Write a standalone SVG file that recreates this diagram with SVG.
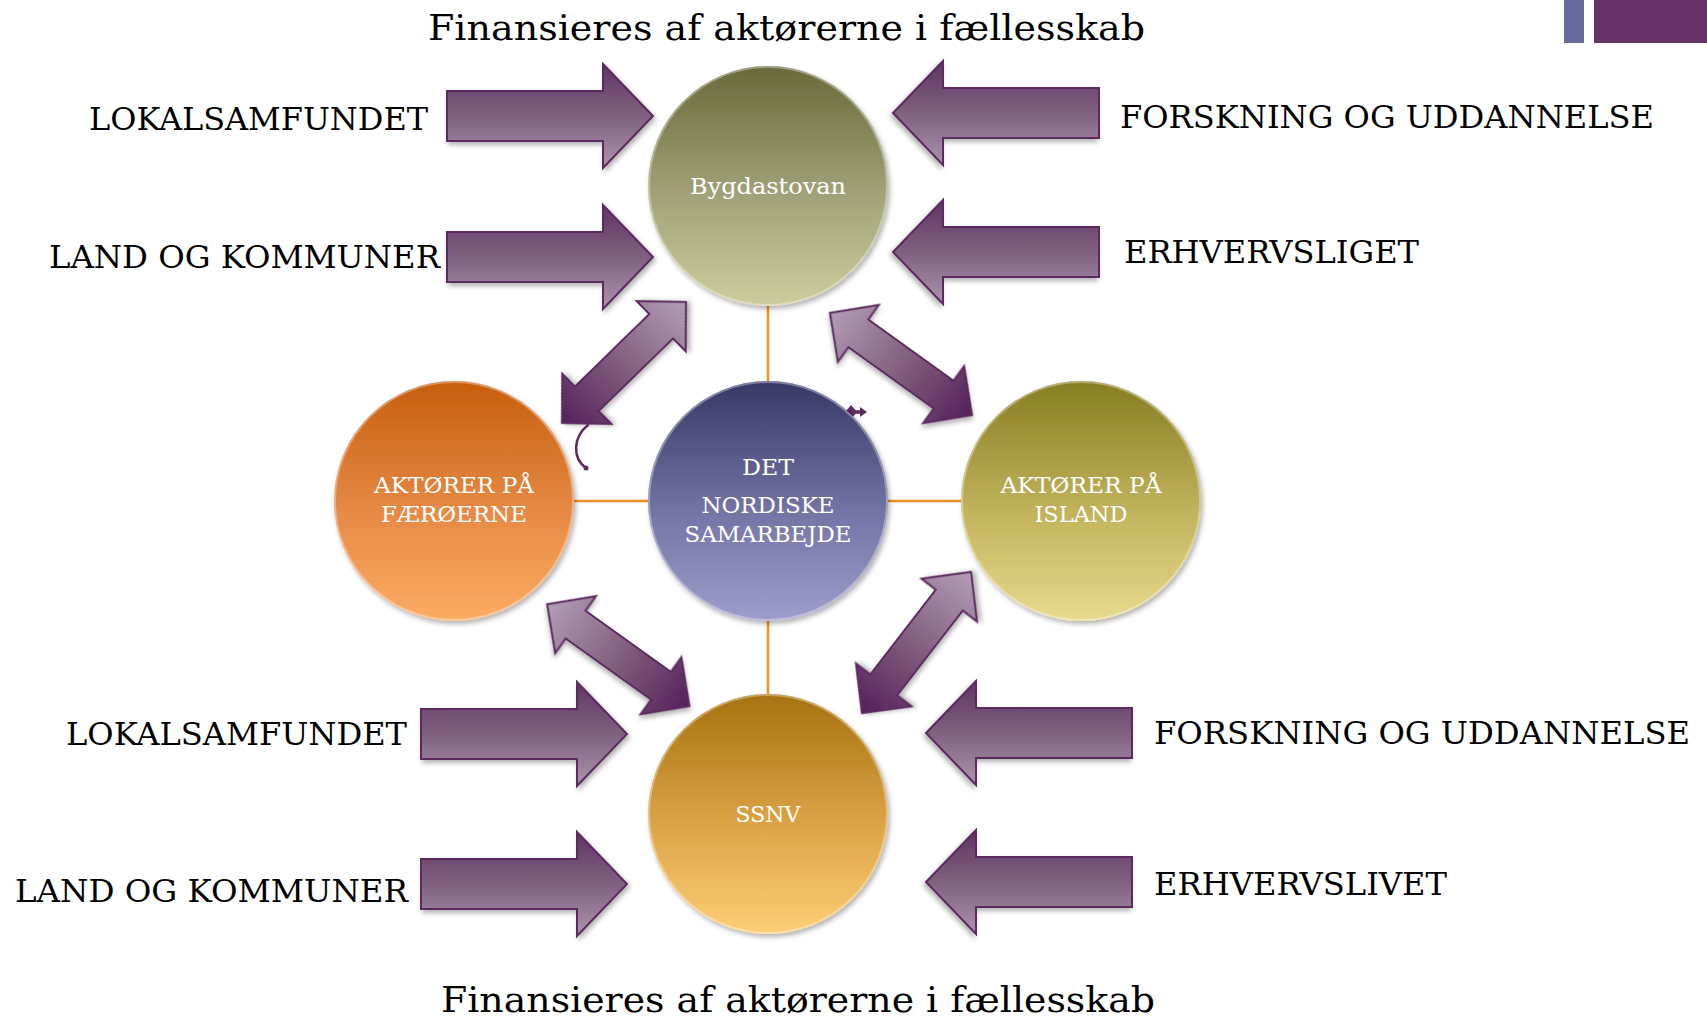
<svg xmlns="http://www.w3.org/2000/svg" xmlns:xlink="http://www.w3.org/1999/xlink" width="1707" height="1021" viewBox="0 0 1707 1021">
<style>
.lbl{font-family:"DejaVu Serif","Liberation Serif",serif;font-size:32px;fill:#000}
.ttl{font-family:"DejaVu Serif","Liberation Serif",serif;font-size:36px;fill:#000}
.ct{font-family:"DejaVu Serif","Liberation Serif",serif;font-size:22px;fill:#fff;text-anchor:middle}
.link{stroke:#f39020;stroke-width:2.5;fill:none}
.harr{fill:url(#gH);stroke:#5c2a5e;stroke-width:2;filter:url(#sh)}
.darr{stroke:#5c2a5e;stroke-width:2;filter:url(#sh)}
.node{filter:url(#sh)}
.rim{fill:none;stroke:#fff;stroke-opacity:0.35;stroke-width:2}
</style>
<defs>
<filter id="sh" x="-20%" y="-20%" width="140%" height="140%">
<feDropShadow dx="2" dy="3" stdDeviation="2.5" flood-color="#000" flood-opacity="0.3"/>
</filter>
<linearGradient id="gH" x1="0" y1="0" x2="0" y2="1">
<stop offset="0" stop-color="#5e3463"/>
<stop offset="0.5" stop-color="#80617f"/>
<stop offset="1" stop-color="#ab94ae"/>
</linearGradient>
<linearGradient id="gDL" x1="0" y1="0" x2="1" y2="0">
<stop offset="0" stop-color="#54215a"/>
<stop offset="0.5" stop-color="#83607f"/>
<stop offset="1" stop-color="#b39db6"/>
</linearGradient>
<linearGradient id="gLD" x1="0" y1="0" x2="1" y2="0">
<stop offset="0" stop-color="#b39db6"/>
<stop offset="0.5" stop-color="#83607f"/>
<stop offset="1" stop-color="#54215a"/>
</linearGradient>
<linearGradient id="gByg" x1="0" y1="0" x2="0" y2="1">
<stop offset="0" stop-color="#69693a"/>
<stop offset="0.55" stop-color="#a3a37a"/>
<stop offset="1" stop-color="#cccc9e"/>
</linearGradient>
<linearGradient id="gNor" x1="0" y1="0" x2="0" y2="1">
<stop offset="0" stop-color="#383866"/>
<stop offset="0.55" stop-color="#7474a5"/>
<stop offset="1" stop-color="#9e9ecc"/>
</linearGradient>
<linearGradient id="gFae" x1="0" y1="0" x2="0" y2="1">
<stop offset="0" stop-color="#c65e0d"/>
<stop offset="0.55" stop-color="#e68a45"/>
<stop offset="1" stop-color="#fbac65"/>
</linearGradient>
<linearGradient id="gIsl" x1="0" y1="0" x2="0" y2="1">
<stop offset="0" stop-color="#877d22"/>
<stop offset="0.55" stop-color="#c2b35c"/>
<stop offset="1" stop-color="#e9da8e"/>
</linearGradient>
<linearGradient id="gSsn" x1="0" y1="0" x2="0" y2="1">
<stop offset="0" stop-color="#a67210"/>
<stop offset="0.55" stop-color="#dca447"/>
<stop offset="1" stop-color="#fdcf76"/>
</linearGradient>
<path id="blk" d="M0,-25 L156,-25 L156,-52 L206,0 L156,52 L156,25 L0,25 Z"/>
<path id="dbl" d="M-87.5,0 L-52.5,-35 L-52.5,-17 L52.5,-17 L52.5,-35 L87.5,0 L52.5,35 L52.5,17 L-52.5,17 L-52.5,35 Z"/>
</defs>

<rect width="1707" height="1021" fill="#fff"/>
<rect x="1564" y="0" width="20" height="43" fill="#676a9c"/>
<rect x="1594" y="0" width="113" height="43" fill="#663366"/>

<text class="ttl" x="428" y="40" textLength="717" lengthAdjust="spacingAndGlyphs">Finansieres af aktørerne i fællesskab</text>
<text class="ttl" x="441" y="1012" textLength="714" lengthAdjust="spacingAndGlyphs">Finansieres af aktørerne i fællesskab</text>

<g id="connectors">
<line class="link" x1="768" y1="306" x2="768" y2="382"/>
<line class="link" x1="768" y1="620" x2="768" y2="694"/>
<line class="link" x1="574" y1="501" x2="648" y2="501"/>
<line class="link" x1="888" y1="501" x2="961" y2="501"/>
<use href="#blk" class="harr" transform="translate(447,116)"/>
<use href="#blk" class="harr" transform="translate(447,257)"/>
<use href="#blk" class="harr" transform="translate(1099,113) scale(-1,1)"/>
<use href="#blk" class="harr" transform="translate(1099,252) scale(-1,1)"/>
<use href="#blk" class="harr" transform="translate(421,734)"/>
<use href="#blk" class="harr" transform="translate(421,884)"/>
<use href="#blk" class="harr" transform="translate(1132,733) scale(-1,1)"/>
<use href="#blk" class="harr" transform="translate(1132,882) scale(-1,1)"/>
<use href="#dbl" class="darr" fill="url(#gDL)" transform="translate(624,362.5) rotate(-44.3) scale(0.99,1)"/>
<use href="#dbl" class="darr" fill="url(#gLD)" transform="translate(901,364) rotate(35.7)"/>
<use href="#dbl" class="darr" fill="url(#gLD)" transform="translate(618.3,655.2) rotate(35.6)"/>
<use href="#dbl" class="darr" fill="url(#gDL)" transform="translate(916.5,642.5) rotate(-52.3) scale(1.02,1)"/>
<path d="M588,425 C573,437 572,458 586,468" fill="none" stroke="#5c2a5e" stroke-width="2.5" stroke-linecap="round"/>
<circle cx="586" cy="468" r="2.5" fill="#5c2a5e"/>
<g fill="#5c2a5e">
<line x1="840" y1="412" x2="862" y2="412" stroke="#5c2a5e" stroke-width="3.5"/>
<path d="M835,412 L842,407 L842,417 Z"/>
<path d="M867,412 L860,407 L860,417 Z"/>
<path d="M851,405 L857,412 L851,419 L845,412 Z"/>
</g>
</g>

<g id="node-bygdastovan">
<circle class="node" cx="768" cy="186" r="120" fill="url(#gByg)"/>
<circle class="rim" cx="768" cy="186" r="119"/>
<text class="ct" x="768" y="194" textLength="156" lengthAdjust="spacingAndGlyphs">Bygdastovan</text>
</g>
<g id="node-nordiske">
<circle class="node" cx="768" cy="501" r="120" fill="url(#gNor)"/>
<circle class="rim" cx="768" cy="501" r="119"/>
<text class="ct" x="768" y="475" textLength="52" lengthAdjust="spacingAndGlyphs">DET</text>
<text class="ct" x="768" y="513" textLength="133" lengthAdjust="spacingAndGlyphs">NORDISKE</text>
<text class="ct" x="768" y="542" textLength="167" lengthAdjust="spacingAndGlyphs">SAMARBEJDE</text>
</g>
<g id="node-faeroerne">
<circle class="node" cx="454" cy="501" r="120" fill="url(#gFae)"/>
<circle class="rim" cx="454" cy="501" r="119"/>
<text class="ct" x="454" y="493" textLength="160" lengthAdjust="spacingAndGlyphs">AKTØRER PÅ</text>
<text class="ct" x="454" y="522" textLength="146" lengthAdjust="spacingAndGlyphs">FÆRØERNE</text>
</g>
<g id="node-island">
<circle class="node" cx="1081" cy="501" r="120" fill="url(#gIsl)"/>
<circle class="rim" cx="1081" cy="501" r="119"/>
<text class="ct" x="1081" y="493" textLength="161" lengthAdjust="spacingAndGlyphs">AKTØRER PÅ</text>
<text class="ct" x="1081" y="522" textLength="93" lengthAdjust="spacingAndGlyphs">ISLAND</text>
</g>
<g id="node-ssnv">
<circle class="node" cx="768" cy="814" r="120" fill="url(#gSsn)"/>
<circle class="rim" cx="768" cy="814" r="119"/>
<text class="ct" x="768" y="822" textLength="65" lengthAdjust="spacingAndGlyphs">SSNV</text>
</g>

<g id="label-lokal-top"><text class="lbl" x="89" y="130" textLength="339" lengthAdjust="spacingAndGlyphs">LOKALSAMFUNDET</text></g>
<g id="label-land-top"><text class="lbl" x="49" y="268" textLength="391" lengthAdjust="spacingAndGlyphs">LAND OG KOMMUNER</text></g>
<g id="label-forsk-top"><text class="lbl" x="1120" y="128" textLength="534" lengthAdjust="spacingAndGlyphs">FORSKNING OG UDDANNELSE</text></g>
<g id="label-erhv-top"><text class="lbl" x="1124" y="263" textLength="295" lengthAdjust="spacingAndGlyphs">ERHVERVSLIGET</text></g>
<g id="label-lokal-bot"><text class="lbl" x="66" y="745" textLength="341" lengthAdjust="spacingAndGlyphs">LOKALSAMFUNDET</text></g>
<g id="label-land-bot"><text class="lbl" x="15" y="902" textLength="393" lengthAdjust="spacingAndGlyphs">LAND OG KOMMUNER</text></g>
<g id="label-forsk-bot"><text class="lbl" x="1154" y="744" textLength="536" lengthAdjust="spacingAndGlyphs">FORSKNING OG UDDANNELSE</text></g>
<g id="label-erhv-bot"><text class="lbl" x="1154" y="895" textLength="293" lengthAdjust="spacingAndGlyphs">ERHVERVSLIVET</text></g>
</svg>
